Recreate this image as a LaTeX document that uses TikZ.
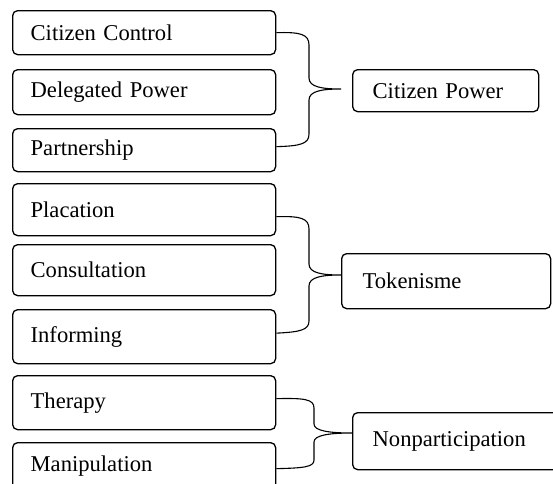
\documentclass[tikz,border=0pt]{standalone}
\usepackage{fontspec}
\setmainfont{Liberation Serif}
\usetikzlibrary{calc, positioning}

\tikzset{
  rung/.style={draw, rounded corners=5pt, line width=1.3pt, anchor=north west,
    text width=227pt, inner xsep=18pt, inner ysep=0pt, align=left,
    font=\fontsize{22.6}{27}\selectfont},
  stage/.style={rung, inner xsep=20pt},
  brace/.style={line width=1.1pt}
}

\begin{document}
\begin{tikzpicture}[x=1pt, y=-1pt]
\useasboundingbox (0,0) rectangle (553,483);
\clip (0,0) rectangle (553,483);

% rungs of the ladder
\node[rung, minimum height=44pt] (cc) at (12,10) {Citizen Control};
\node[rung, minimum height=45pt] (dp) at (12,69) {Delegated Power};
\node[rung, minimum height=43pt] (pa) at (12,128) {Partnership};
\node[rung, minimum height=52pt] (pl) at (12,183) {Placation};
\node[rung, minimum height=51pt] (co) at (12,244) {Consultation};
\node[rung, minimum height=54pt] (in) at (12,309) {Informing};
\node[rung, minimum height=54pt] (th) at (12,375) {Therapy};
\node[rung, minimum height=46pt] (ma) at (12,442) {Manipulation};

% stages
\node[stage, text width=146pt, minimum height=42pt] (cp) at (352,69) {Citizen Power};
\node[stage, inner xsep=21pt, text width=167pt, minimum height=55pt] (tk) at (341,253) {Tokenisme};
\node[stage, text width=196pt, minimum height=57pt] (np) at (352,412) {Nonparticipation};

\coordinate (cpTip) at (341,89);
\coordinate (tkTip) at (341,275);
\coordinate (npTip) at (352,433);

% braces
\draw[brace] (cc.east) .. controls (300,32) and (309,34) .. (309,45) -- (309,78)
  .. controls (309,87) and (322,89) .. (cpTip)
  .. controls (322,89) and (309,91) .. (309,100) -- (309,134)
  .. controls (309,144) and (300,146) .. ([yshift=3.5pt]pa.east);
\draw[brace] ([yshift=-7pt]pl.east) .. controls (300,216) and (309,218) .. (309,229) -- (309,264)
  .. controls (309,273) and (322,275) .. (tkTip)
  .. controls (322,275) and (309,277) .. (309,286) -- (309,321)
  .. controls (309,330) and (300,332) .. ([yshift=3.5pt]in.east);
\draw[brace] ([yshift=4pt]th.east) .. controls (304,398) and (314,399) .. (314,408) -- (314,424)
  .. controls (314,431) and (330,433) .. (npTip)
  .. controls (330,433) and (314,435) .. (314,442) -- (314,460)
  .. controls (314,467) and (304,468) .. ([yshift=-3pt]ma.east);
\end{tikzpicture}
\end{document}
